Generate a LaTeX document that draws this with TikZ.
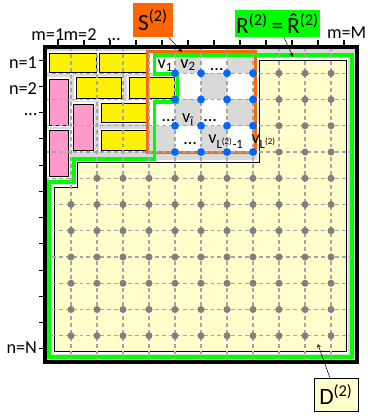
\documentclass[tikz,border=0pt]{standalone}
\usepackage{fontspec}
\setmainfont{Carlito}
\usepackage{tikz}
\usetikzlibrary{positioning}
\definecolor{sOrange}{RGB}{255,102,0}
\definecolor{rGreen}{RGB}{0,255,0}
\definecolor{dYellow}{RGB}{255,255,204}
\definecolor{bPink}{RGB}{255,153,204}
\definecolor{vBlue}{RGB}{0,102,255}
\definecolor{bgGray}{RGB}{217,217,217}
\definecolor{gridGray}{RGB}{166,166,166}
\definecolor{dotGray}{RGB}{128,128,128}
% R with a hat on top
\newcommand{\hatR}{\accent"02C6 R}

\begin{document}
\begin{tikzpicture}[x=0.702cm, y=-0.70875cm,
    block/.style={draw=black, line width=0.5pt, preaction={draw=white, line width=3pt}},
    gridline/.style={gridGray, line width=0.8pt, dash pattern=on 3pt off 2.3pt},
    axlab/.style={font=\fontsize{14}{16}\selectfont, inner sep=0pt},
    vlab/.style={font=\fontsize{14}{16}\selectfont, inner sep=0pt},
    tag/.style={font=\fontsize{18}{20}\selectfont, inner sep=0pt}]

        \useasboundingbox (-1.731,-1.790) rectangle (12.385,14.057);

        % background of the grid
        \fill[bgGray] (0,0) rectangle (12,12);

        % checkerboard inside S
        \foreach \c/\r in {4/0,6/0,5/1,7/1,4/2,6/2,5/3,7/3}
            \fill[white] (\c,\r) rectangle ++(1,1);

        % placed blocks
        \foreach \a/\b/\c/\d in {0.15/0.23/1.96/0.96, 2.08/0.23/3.88/0.96,
                                 1.19/1.17/2.92/1.97, 3.23/1.17/4.96/1.97,
                                 2.15/2.13/3.88/2.86, 2.15/3.19/3.88/3.92}
            \filldraw[block, fill=yellow] (\a,\b) rectangle (\c,\d);
        \foreach \a/\b/\c/\d in {0.15/1.22/0.88/2.97, 0.15/3.19/0.88/4.94,
                                 1.08/2.17/1.85/3.92}
            \filldraw[block, fill=bPink] (\a,\b) rectangle (\c,\d);

        % remaining region D
        \filldraw[block, fill=dYellow] (0.35,5.33) -- (1.26,5.33) -- (1.26,4.38)
            -- (8.23,4.38) -- (8.23,0.5) -- (11.57,0.5) -- (11.57,11.61)
            -- (0.35,11.61) -- cycle;

        % S and R outlines
        \draw[sOrange, line width=2.3pt] (3.95,0.18) rectangle (8.08,4.02);
        \draw[rGreen, line width=2.7pt] (4.22,0.3) -- (11.8,0.3) -- (11.8,11.8)
            -- (0.15,11.8) -- (0.15,5.14) -- (1.12,5.14) -- (1.12,4.27)
            -- (4.22,4.27) -- (4.22,2.1) -- (5.1,2.1) -- (5.1,1.02)
            -- (4.22,1.02) -- cycle;

        % grid
        \foreach \k in {1,...,11} {
            \draw[gridline] (\k,0) -- (\k,12);
            \draw[gridline] (0,\k) -- (12,\k);
        }

        % vertices
        \foreach \c in {5,...,8}
            \foreach \r in {1,...,4}
                \fill[vBlue] (\c,\r) circle (3pt);
        \foreach \c in {9,...,11}
            \foreach \r in {1,...,4}
                \fill[dotGray] (\c,\r) circle (2.7pt);
        \foreach \c in {2,...,11}
            \fill[dotGray] (\c,5) circle (2.7pt);
        \foreach \c in {1,...,11}
            \foreach \r in {6,...,11}
                \fill[dotGray] (\c,\r) circle (2.7pt);

        % frame and ticks
        \draw[line width=3pt] (0,0) rectangle (12,12);
        \foreach \k in {0,...,11} {
            \draw[line width=0.8pt] (\k+0.5,0) -- (\k+0.5,-0.25);
            \draw[line width=0.8pt] (0,\k+0.5) -- (-0.25,\k+0.5);
        }

        \node[axlab, anchor=base] (m1) at (0.11,-0.24) {m=1};
        \node[axlab, anchor=base] (m2) at (1.35,-0.24) {m=2};
        \node[axlab, anchor=base] (mdots) at (2.65,-0.24) {\dots};
        \node[axlab, anchor=base] (mM) at (11.6,-0.33) {m=M};
        \node[axlab, anchor=east] (n1) at (-0.3,0.61) {n=1};
        \node[axlab, anchor=east] (n2) at (-0.3,1.6) {n=2};
        \node[axlab, anchor=east] (ndots) at (-0.3,2.59) {\dots};
        \node[axlab, anchor=east] (nN) at (-0.3,11.46) {n=N};

        % labels of the vertices in S
        \node[vlab] (v1) at (4.63,0.72) {v\textsubscript{1}};
        \node[vlab] (v2) at (5.5,0.69) {v\textsubscript{2}};
        \node[vlab] (vdotsA) at (6.6,0.85) {\dots};
        \node[vlab] (vdotsB) at (4.75,2.82) {\dots};
        \node[vlab] (vi) at (5.5,2.78) {v\textsubscript{\^{\i}}};
        \node[vlab] (vdotsC) at (6.35,2.82) {\dots};
        \node[vlab] (vdotsD) at (5.58,3.67) {\dots};
        \node[vlab] (vLm) at (6.96,3.62) {v\textsubscript{L\textsuperscript{(2)}-1}};
        \node[vlab] (vL) at (8.42,3.62) {v\textsubscript{L\textsuperscript{(2)}}};

        % tags
        \node[tag, fill=sOrange, minimum width=1.08cm, minimum height=0.92cm] (sLab) at (4.154,-1.028) {S\textsuperscript{(2)}};
        \node[tag, fill=rGreen, minimum width=2.3cm, minimum height=0.73cm] (rLab) at (8.94,-0.895) {R\textsuperscript{(2)}\,=\,\hatR\textsuperscript{(2)}};
        \node[tag, draw, thin, fill=dYellow, minimum width=1.19cm, minimum height=0.89cm] (dLab) at (11.19,13.24) {D\textsuperscript{(2)}};

        \coordinate (sTip) at (5.27,0.19);
        \coordinate (rTip) at (9.54,0.38);
        \coordinate (dTip) at (10.49,11.31);
        \draw[->, >=stealth, thin] (sLab) -- (sTip);
        \draw[->, >=stealth, thin] (rLab) -- (rTip);
        \draw[->, >=stealth, thin] (dLab) -- (dTip);

\end{tikzpicture}
\end{document}
